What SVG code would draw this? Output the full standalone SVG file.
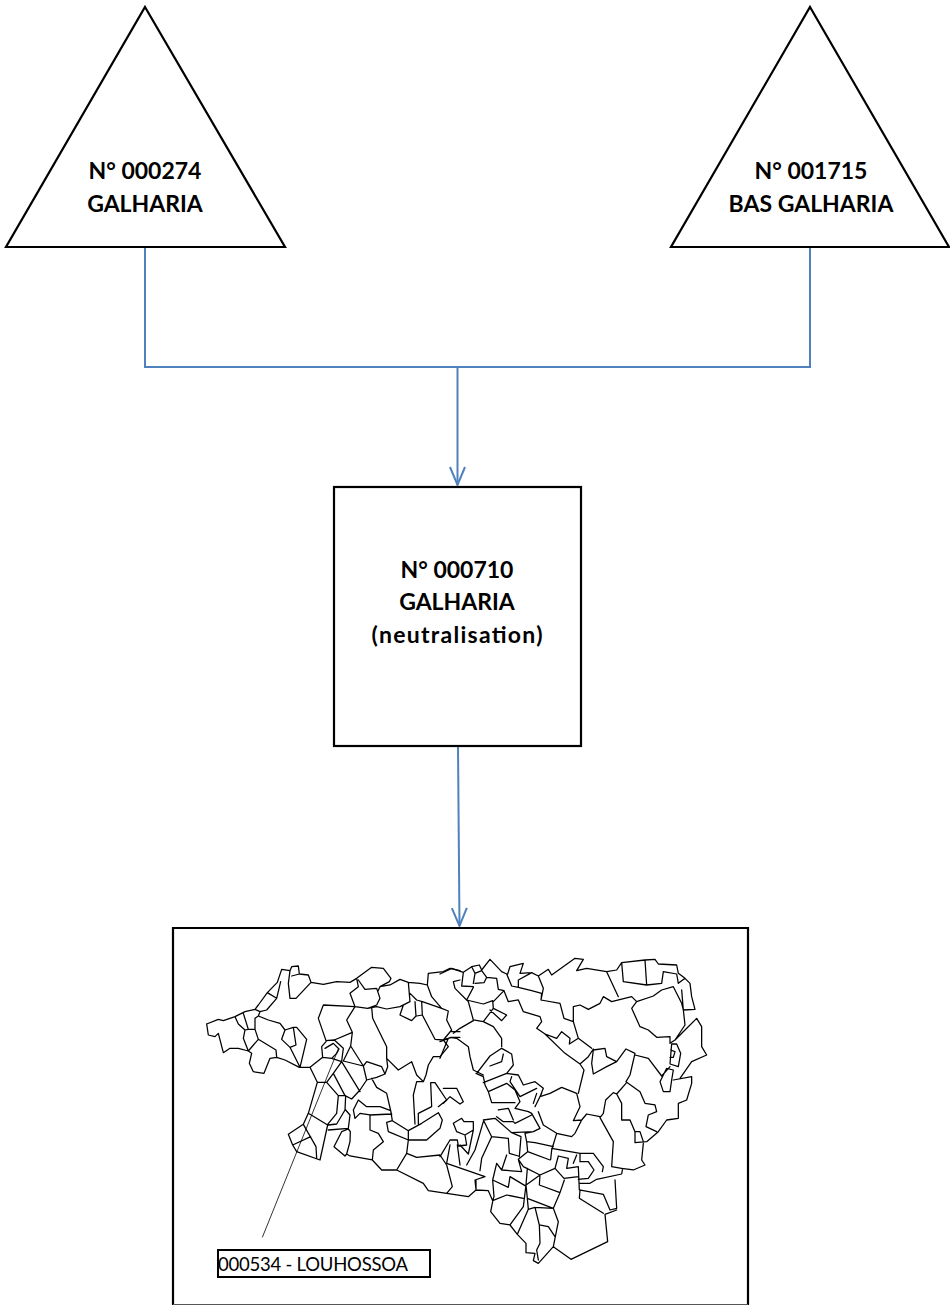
<svg xmlns="http://www.w3.org/2000/svg" width="950" height="1305" viewBox="0 0 950 1305">
<style>
.n{fill:#fff;stroke:#000;stroke-width:2.2}
.t{font-family:"Lato","Open Sans",sans-serif;font-weight:700;font-size:23px;text-anchor:middle;fill:#000}
.c{fill:none;stroke:#4f81bd;stroke-width:2}
.m{fill:none;stroke:#000;stroke-width:3.8;stroke-linejoin:round;stroke-linecap:round}
</style>
<defs><marker id="a" markerUnits="userSpaceOnUse" markerWidth="24" markerHeight="20" refX="20" refY="10" orient="auto"><path d="M2 2.500L20 10L2 17.500" fill="none" stroke="#4f81bd" stroke-width="2"/></marker></defs>
<rect width="950" height="1305" fill="#fff"/>
<g id="connectors">
<path class="c" d="M145 247V367H810V247"/>
<path class="c" d="M457.500 367V485" marker-end="url(#a)"/>
<path class="c" d="M458 746L459.500 926" marker-end="url(#a)"/>
</g>
<g id="node-000274"><path class="n" d="M145 7L285 247H6Z"/><text class="t" x="145" y="179">N° 000274</text><text class="t" x="145" y="212">GALHARIA</text></g>
<g id="node-001715"><path class="n" d="M810 7L949 247H671Z"/><text class="t" x="811" y="179">N° 001715</text><text class="t" x="811" y="212">BAS GALHARIA</text></g>
<g id="node-000710"><rect class="n" x="334" y="487" width="247" height="259"/><text class="t" x="457" y="578">N° 000710</text><text class="t" x="457" y="610">GALHARIA</text><text class="t" x="457" y="643" font-size="23" textLength="171">(neutralisation)</text></g>
<g id="node-map"><path class="n" d="M173 1305V928H748V1305"/><path d="M173 1304.500H748" stroke="#555" stroke-width="1" fill="none"/>
<g transform="translate(190 950) scale(.33333)"><path class="m" d="M50 222L85 208 100 212 135 200 165 185 195 178 205 165 232 128 262 97 275 58 300 62 305 50 325 48 328 72 355 75 363 97 400 103 440 95 480 97 500 85 545 52 580 55 603 85 598 95 570 110
M50 222L55 255 75 260 85 250 100 308 120 295 145 295 175 303 185 310 178 340 190 365 222 370 240 325 260 322 285 330 328 352 360 352 382 397 355 490 340 523 295 553 308 585 320 605 390 630 413 525 355 490M340 523L378 590 380 625M308 585L362 560
M135 200L145 222 165 240 175 238M165 240L160 265 175 303M160 190L175 238 195 238 195 205 205 198 235 210 270 220 285 240M195 238L205 268 175 303M205 268L258 300 260 322
M195 178L210 185 205 198M210 185L230 180 260 145 232 128M260 145L272 95M275 58L300 62 295 100 300 145 318 145 363 97M305 78L328 72
M285 240L310 232 320 232 350 268 330 352M285 240L275 268 300 292 330 352M310 232L318 285 300 292
M500 85L505 110 480 130 495 170M505 90L525 118 560 115 570 145 560 165 533 175M495 170L533 175M495 170L400 165 385 205 408 272M495 170L470 210 487 247M487 247L433 270 408 272M487 247L482 288 460 333M433 270L460 295 455 333
M408 275L395 290 398 322 425 325M405 295L430 280 447 297 440 310 425 325M425 325L455 335M360 352L398 322M455 335L430 370 410 397 382 397M430 370L465 437M455 335L510 425M460 333L520 348M482 288L520 348 530 335M520 348L530 390 510 420 485 447 465 437M410 397L445 437 465 437M467 437L465 480 440 522 415 525M445 437L440 490 413 523
M530 335L575 350 585 372 560 382 530 390M590 325L593 350 585 372M545 385L560 412 590 430 605 495M545 172L548 205 590 290 590 325
M533 175L560 170 590 177 630 170 660 155 655 97 630 88 600 105 570 110 563 125M655 97L690 100 712 105 725 140 755 175 775 183 770 210 785 240 760 270 775 290 750 320 730 320 715 345 708 375 700 395 680 375 665 335 625 360 590 325
M660 130L680 150 697 155 755 175M660 155L640 165 630 195 665 212 678 198 675 155M695 155L697 195 680 198M697 195L735 268 760 270M712 105L715 70 760 65 780 55 810 62
M700 395L680 395 670 435 675 522M685 522L685 490 725 470 722 398 735 398 770 450 745 470
M490 480L505 450 530 470 570 470 602 482 607 512 590 517M490 480L495 505 510 490 540 495 605 492M540 495L540 540 565 550 580 575 550 600 547 630M590 517L595 545 655 570M607 512L655 542 655 570 650 610 620 660M655 542L695 520 745 488 757 510 750 535 710 570 655 570
M467 480L480 495 475 535 415 540M475 537L455 545 432 590 465 618 470 612 480 618 547 630 575 660 620 660 700 700 715 722 770 730M475 537L481 545 480 575 470 612M650 610L680 622 750 615 770 645 787 710 770 730M810 245L785 245M810 262L785 262 760 270"/>
<path d="M217 862L445 297" fill="none" stroke="#000" stroke-width="2.400"/>
</g>
<g transform="translate(440 950) scale(.33333)"><path class="m" d="M0 72L35 55 70 67 95 50 118 45 125 60 150 28 185 65 200 72M203 72L210 50 250 40 240 70 275 68 295 78 325 58 335 75 405 25 430 28 410 62 440 55 500 65 530 60 545 38 615 30 645 28 655 42 710 45 715 70 735 85 750 100 755 140 765 178 730 180 725 120
M70 67L65 108 100 110M95 50L105 70 100 100M105 70L125 62 140 82 132 98 105 100M140 82L170 85 175 118 192 122 160 155M80 150L45 115 40 95 60 90M100 112L80 150 130 162 158 152 160 175 130 215M80 150L85 155 100 210 130 215 160 230 185 265 185 290M160 175L200 195 185 212 150 180
M192 122L205 155 235 150 250 185 300 200 305 215 290 235 315 252M200 72L215 108 235 112 275 122 305 130 303 150 360 160 372 205 400 215M235 112L235 90 275 68M295 78L310 115 303 150
M400 215L400 170 420 165 445 178 480 160 490 140 515 155 575 140 590 155 640 138 665 120 700 110 725 160 730 180 735 225 705 270 690 280 690 260 650 262 625 240 600 230 575 175 590 155M400 215L415 265M315 252L350 265 365 245 390 265 388 282 415 265 455 295M315 252L375 310 420 342 445 320 460 297M420 342L432 360 415 430M500 65L535 140M545 38L550 95 620 105 665 100 670 65 710 72 715 100 735 85M620 105L615 30
M460 300L495 295 500 320 530 335 500 350 460 372 455 340 460 300M530 335L558 297 585 310 570 375 558 395M585 315L625 325 665 378 690 350M695 282L710 282 722 310 715 350 690 342 695 282M692 300L705 305 700 322 690 322M680 355L700 360 695 390 690 425 670 425 660 395 680 355M700 390L755 380 755 400 740 450 715 460 715 505 680 510 655 545 620 575 585 578M705 270L735 240 770 205 785 230 785 290 800 315 755 335 720 385
M558 395L600 425 615 460 645 465 650 485 625 495 618 530 650 545M558 400L530 432 520 428 497 450 490 490 480 503 520 575 515 650 545 655 580 660 615 645 605 630 610 580M530 432L545 460 545 510 570 510 585 545 585 578M585 545L600 545 610 575
M480 500L440 492 425 510 400 512 420 470 410 430 365 412 330 430 300 440M425 510L405 550 395 560 350 550 310 525 295 485
M110 370L150 318 185 295 215 312 220 345 200 370 130 398M108 370L130 380 135 405M150 348L185 335 190 312M135 405L145 425 200 400 225 420 240 455 225 475M145 425L155 458 225 458M200 370L235 375 250 405 285 395 310 415 300 440M215 380L210 395 240 440 290 415M290 430L280 460M305 430L285 470
M225 475L265 485 275 490 300 535 280 545 255 550M175 480L205 475 220 510M170 500L190 515 220 515 225 520 275 495M130 510L165 505 215 548 280 545M130 510L155 560 205 565M155 560L125 625 120 662M130 515L105 600 80 645M205 565L208 610 235 618M215 548L243 560 238 620M255 550L260 575 285 578 340 590M350 550L335 600 332 628M260 575L263 605 235 628 250 650 300 675 345 655M263 605L330 630M335 595L420 610 460 610 490 650 487 665
M200 615L185 660 170 640 158 690 205 712 210 680 255 707 300 675 298 705 360 728 373 690M185 660L245 665 235 628M345 655L372 685 415 680M345 655L355 618 385 625 380 655 415 650M410 615L400 640M420 612L420 635 445 635 462 660 445 685 415 688M420 700L450 700 470 688 545 672 548 655M415 650L418 720 490 733 510 780 530 775 525 690M420 720L418 745 490 790M530 780L495 793 503 875 393 928 340 890 355 815 340 775 360 728
M262 655L258 705 262 745 340 775M258 705L250 770M262 745L265 778 285 772 340 775M158 690L162 740 158 752 200 735 250 745M108 690L108 720 145 722 158 752M158 755L152 785 180 820 210 825 232 853 258 880 258 908 285 910 280 932 295 940 340 890M210 825L250 770M232 853L265 778M285 772L298 825 300 880 290 900 295 930M298 825L325 830 345 860
M40 520L65 505 72 515 100 515 100 540 85 612 60 585M40 520L50 545 75 555 80 585 55 588 52 570 30 570 0 620M75 555L100 540M52 585L60 645M30 585L20 640M20 640L135 680 105 690 108 720 85 740 20 730
M10 415L50 415 70 455 60 462 30 440 10 460M40 250L60 235 100 212M30 262L50 265 85 290 90 320 100 360 130 375M0 275L25 265 0 325"/></g>
</g>
<g id="node-louhossoa"><rect x="218" y="1250" width="212" height="27" fill="#fff" stroke="#000" stroke-width="2"/><text x="218" y="1271" font-family="Lato,'Open Sans',sans-serif" font-size="18.500" textLength="190" fill="#000">000534 - LOUHOSSOA</text></g>
</svg>
